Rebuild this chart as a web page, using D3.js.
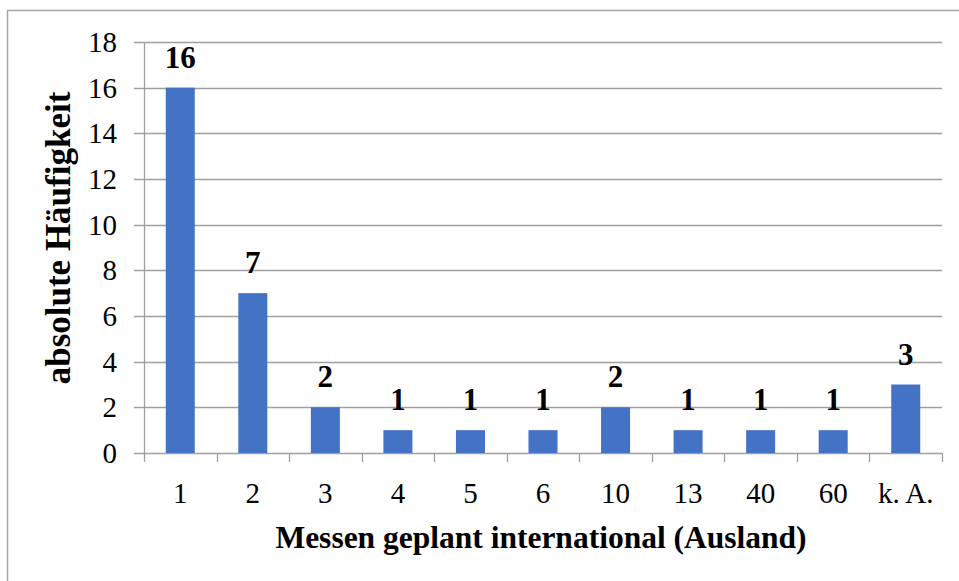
<!DOCTYPE html>
<html>
<head>
<meta charset="utf-8">
<script src="https://cdn.jsdelivr.net/npm/d3@7"></script>
<style>
body { margin: 0; background: #fff; }
text { font-family: "Liberation Serif", "Times New Roman", serif; fill: #000; }
</style>
</head>
<body>
<div id="chart"></div>
<script>
// Messen geplant international (Ausland)
let categories = ['1', '2', '3', '4', '5', '6', '10', '13', '40', '60', 'k. A.'];
let counts = [16, 7, 2, 1, 1, 1, 2, 1, 1, 1, 3];
let yTicks = [0, 2, 4, 6, 8, 10, 12, 14, 16, 18];

let width = 959, height = 581;
let plot = {left: 144, right: 942, top: 42, bottom: 453};

let svg = d3.select('#chart')
    .append('svg')
    .attr('width', width)
    .attr('height', height);

// outer frame
svg.append('rect')
    .attr('x', 7.5).attr('y', 10.5)
    .attr('width', width).attr('height', height)
    .attr('fill', 'none')
    .attr('stroke', '#a6a6a6')
    .attr('stroke-width', 1.5);

let x = d3.scaleBand()
    .domain(categories)
    .range([plot.left, plot.right])
    .paddingInner(0.6)
    .paddingOuter(0.3);

let y = d3.scaleLinear()
    .domain([0, 18])
    .range([plot.bottom, plot.top]);

// gridlines + y ticks
svg.append('g')
    .selectAll('line')
    .data(yTicks)
    .enter()
    .append('line')
    .attr('x1', plot.left - 10)
    .attr('x2', plot.right)
    .attr('y1', function(d) { return Math.round(y(d)) + 0.5; })
    .attr('y2', function(d) { return Math.round(y(d)) + 0.5; })
    .attr('stroke', '#a0a0a0')
    .attr('stroke-width', 1.3);

svg.append('g')
    .selectAll('text')
    .data(yTicks)
    .enter()
    .append('text')
    .attr('x', 117)
    .attr('y', function(d) { return y(d) + 10; })
    .attr('text-anchor', 'end')
    .style('font-size', '29px')
    .text(function(d) { return d; });

// y axis line
svg.append('line')
    .attr('x1', plot.left + 0.5).attr('x2', plot.left + 0.5)
    .attr('y1', plot.top).attr('y2', plot.bottom)
    .attr('stroke', '#a0a0a0')
    .attr('stroke-width', 1.3);

// x axis ticks at band boundaries
let step = x.step();
let bounds = d3.range(categories.length + 1).map(function(i) { return plot.left + i * step; });
svg.append('g')
    .selectAll('line')
    .data(bounds)
    .enter()
    .append('line')
    .attr('x1', function(d) { return Math.round(d) + 0.5; })
    .attr('x2', function(d) { return Math.round(d) + 0.5; })
    .attr('y1', plot.bottom)
    .attr('y2', plot.bottom + 9)
    .attr('stroke', '#a0a0a0')
    .attr('stroke-width', 1.3);

// bars
svg.append('g')
    .selectAll('rect')
    .data(counts)
    .enter()
    .append('rect')
    .attr('x', function(d, i) { return x(categories[i]); })
    .attr('y', function(d) { return y(d); })
    .attr('width', x.bandwidth())
    .attr('height', function(d) { return y(0) - y(d); })
    .attr('fill', '#4472c4');

// value labels
svg.append('g')
    .selectAll('text')
    .data(counts)
    .enter()
    .append('text')
    .attr('x', function(d, i) { return x(categories[i]) + x.bandwidth() / 2; })
    .attr('y', function(d) { return y(d) - 20; })
    .attr('text-anchor', 'middle')
    .style('font-size', '31px')
    .style('font-weight', 'bold')
    .text(function(d) { return d; });

// category labels
svg.append('g')
    .selectAll('text')
    .data(categories)
    .enter()
    .append('text')
    .attr('x', function(d) { return x(d) + x.bandwidth() / 2; })
    .attr('y', 503)
    .attr('text-anchor', 'middle')
    .style('font-size', '29px')
    .text(function(d) { return d; });

// axis titles
svg.append('text')
    .attr('x', 541)
    .attr('y', 548)
    .attr('text-anchor', 'middle')
    .style('font-size', '31.5px')
    .style('font-weight', 'bold')
    .text('Messen geplant international (Ausland)');

svg.append('text')
    .attr('transform', 'translate(70,238) rotate(-90)')
    .attr('text-anchor', 'middle')
    .style('font-size', '35px')
    .style('font-weight', 'bold')
    .text('absolute Häufigkeit');
</script>
</body>
</html>
